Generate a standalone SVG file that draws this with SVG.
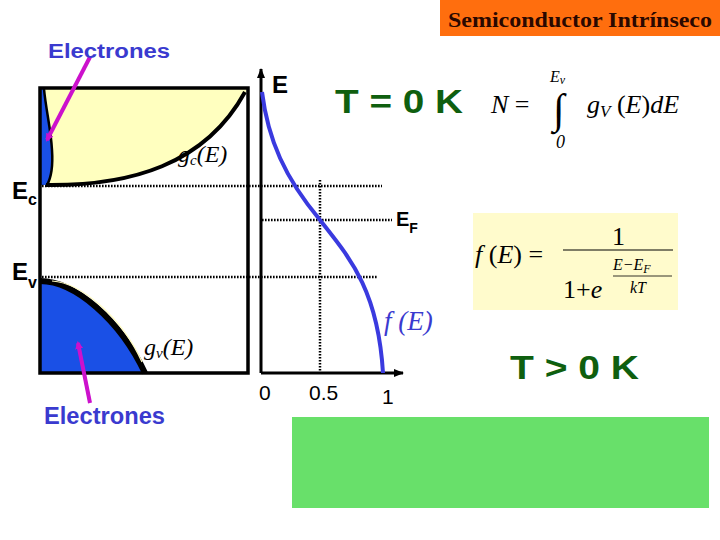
<svg xmlns="http://www.w3.org/2000/svg" width="720" height="540" viewBox="0 0 720 540">
<style>
.ar{font-family:"Liberation Sans",Arial,sans-serif}
.b{font-weight:bold}
.tm{font-family:"Liberation Serif","Times New Roman",serif}
.it{font-style:italic}
.dot{stroke:#000;stroke-width:2.5;stroke-dasharray:1.6 1.4;fill:none}
.elec{fill:#3a3acf;font-family:"Liberation Sans",Arial,sans-serif;font-weight:bold}
.mag{stroke:#cc11cc;stroke-width:4;fill:none}
.green{fill:#0f5f0f;font-family:"Liberation Sans",Arial,sans-serif;font-weight:bold;font-size:33px}
</style>
<defs>
<marker id="ah" markerWidth="10" markerHeight="8" refX="9" refY="4" orient="auto" markerUnits="userSpaceOnUse">
<path d="M0,0 L10,4 L0,8 Z" fill="#000"/>
</marker>
<marker id="mh" markerWidth="10" markerHeight="10" refX="6" refY="5" orient="auto" markerUnits="userSpaceOnUse">
<path d="M0,1 L8,5 L0,9 Z" fill="#cc11cc"/>
</marker>
</defs>
<rect width="720" height="540" fill="#fff"/>

<g id="title">
<rect x="440" y="0" width="280" height="36" fill="#ff6e0e"/>
<text x="448" y="27" class="tm b" font-size="20" fill="#2a0800" textLength="264" lengthAdjust="spacingAndGlyphs">Semiconductor Intrínseco</text>
</g>

<g id="band-diagram">
<path d="M50,89 L246,89 L246,92 C205,165 130,186 47,185 C51,178 53,165 52,150 C51,130 46,110 44,89 Z" fill="#ffffbf"/>
<path d="M41,89 L44,89 C46,110 51,130 52,150 C53,165 51,178 47,185 L41,185 Z" fill="#1a50e6"/>
<path d="M44,89 C46,110 51,130 52,150 C53,165 51,178 47,185" stroke="#000" stroke-width="2.5" fill="none"/>
<path d="M46,185 C130,186 205,165 245,92" stroke="#000" stroke-width="4" fill="none"/>
<path d="M40,281 C75,281 120,320 145,373 L40,373 Z" fill="#1a50e6"/>
<path d="M40,281 C75,281 120,320 145,373" stroke="#000" stroke-width="6" fill="none"/>
<path d="M52,281 C82,283 122,318 142,362" stroke="#fffbc0" stroke-width="1.2" fill="none"/>
<rect x="40" y="88" width="208" height="285" fill="none" stroke="#000" stroke-width="3.5"/>
</g>

<g id="axes">
<line x1="261" y1="373" x2="261" y2="69" stroke="#000" stroke-width="3" marker-end="url(#ah)"/>
<line x1="261" y1="373" x2="403" y2="373" stroke="#000" stroke-width="3" marker-end="url(#ah)"/>
</g>

<g id="connectors">
<line class="dot" x1="42" y1="186" x2="382" y2="186"/>
<line class="dot" x1="262" y1="220" x2="392" y2="220"/>
<line class="dot" x1="42" y1="277" x2="378" y2="277"/>
<line class="dot" x1="320" y1="180" x2="320" y2="372"/>
<line class="mag" x1="90" y1="57" x2="47" y2="140" marker-end="url(#mh)"/>
<line class="mag" x1="90" y1="403" x2="78" y2="343" marker-end="url(#mh)"/>
</g>

<g id="fermi-curve">
<path d="M262,92 C268,140 285,178 320,220 C350,258 378,290 383,373" stroke="#3a3adf" stroke-width="4" fill="none"/>
</g>

<g id="labels">
<text x="48" y="58" class="elec" font-size="20" textLength="122" lengthAdjust="spacingAndGlyphs">Electrones</text>
<text x="44" y="424" class="elec" font-size="23" textLength="121" lengthAdjust="spacingAndGlyphs">Electrones</text>
<text x="272" y="93" class="ar b" font-size="24">E</text>
<text x="12" y="199" class="ar b" font-size="24">E<tspan font-size="16" dy="6">c</tspan></text>
<text x="12" y="280" class="ar b" font-size="24">E<tspan font-size="16" dy="8">v</tspan></text>
<text x="396" y="226" class="ar b" font-size="20">E<tspan font-size="14" dy="7">F</tspan></text>
<text x="259" y="400" class="ar" font-size="21">0</text>
<text x="309" y="400" class="ar" font-size="21">0.5</text>
<text x="382" y="404" class="ar" font-size="21">1</text>
<text x="178" y="162" class="tm it" font-size="24">g<tspan font-size="15" dy="3">c</tspan><tspan dy="-3">(E)</tspan></text>
<text x="144" y="355" class="tm it" font-size="24">g<tspan font-size="15" dy="3">v</tspan><tspan dy="-3">(E)</tspan></text>
<text x="384" y="330" class="tm it" font-size="27" fill="#3a3acf">f (E)</text>
<text x="335" y="113" class="green" textLength="128" lengthAdjust="spacingAndGlyphs">T = 0 K</text>
<text x="510" y="379" class="green" textLength="129" lengthAdjust="spacingAndGlyphs">T &gt; 0 K</text>
</g>

<g id="formula-N">
<text x="491" y="113" class="tm" font-size="26"><tspan class="it">N</tspan> =</text>
<text x="550" y="82" class="tm it" font-size="16">E<tspan font-size="12" dy="2">v</tspan></text>
<text x="553" y="123" class="tm" font-size="42">∫</text>
<text x="556" y="148" class="tm it" font-size="18">0</text>
<text x="587" y="113" class="tm it" font-size="26">g<tspan font-size="17" dy="4">V</tspan><tspan dy="-4" font-style="normal"> (</tspan>E<tspan font-style="normal">)</tspan>dE</text>
</g>

<g id="formula-f">
<rect x="473" y="213" width="205" height="97" fill="#fffbcc"/>
<text x="475" y="263" class="tm" font-size="26"><tspan class="it">f</tspan> (<tspan class="it">E</tspan>) =</text>
<line x1="563" y1="250" x2="673" y2="250" stroke="#000" stroke-width="1"/>
<text x="612" y="245" class="tm" font-size="26">1</text>
<text x="563" y="298" class="tm" font-size="26">1+<tspan class="it">e</tspan></text>
<text x="613" y="270" class="tm it" font-size="16">E−E<tspan font-size="12" dy="3">F</tspan></text>
<line x1="613" y1="276" x2="672" y2="276" stroke="#000" stroke-width="0.8"/>
<text x="630" y="293" class="tm it" font-size="16">kT</text>
</g>

<g id="green-box">
<rect x="292" y="417" width="417" height="91" fill="#68e06a"/>
</g>
</svg>
